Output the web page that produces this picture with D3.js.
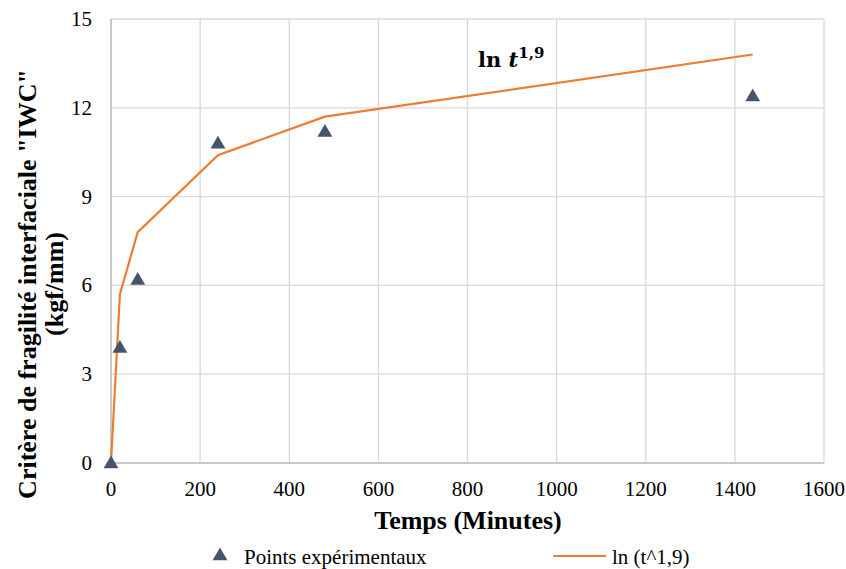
<!DOCTYPE html>
<html><head><meta charset="utf-8">
<script src="https://cdn.jsdelivr.net/npm/d3@7"></script>
<style>body{margin:0;background:#fff}svg{display:block}</style>
</head><body>
<svg id="c" width="846" height="569" font-family="'Liberation Serif', 'Times New Roman', serif"></svg>
<script>
const pointTimes = [0, 20, 60, 240, 480, 1440];
const pointValues = [0, 3.9, 6.2, 10.8, 11.2, 12.4];
const lineTimes = [0, 20, 60, 240, 480, 1440];
const lineValues = [0, 5.7, 7.8, 10.4, 11.7, 13.8];
const xTicks = [0, 200, 400, 600, 800, 1000, 1200, 1400, 1600];
const yTicks = [0, 3, 6, 9, 12, 15];
const seriesNames = ["Points expérimentaux", "ln (t^1,9)"];

const svg = d3.select("#c");
const L = 111, R = 824, T = 19, B = 463;
const x = d3.scaleLinear().domain([0, 1600]).range([L, R]);
const y = d3.scaleLinear().domain([0, 15]).range([B, T]);

// grid
svg.append("g").selectAll("line").data(xTicks).join("line")
  .attr("x1", d => x(d)).attr("x2", d => x(d)).attr("y1", T).attr("y2", B)
  .attr("stroke", "#d9d9d9").attr("stroke-width", 1.3);
svg.append("g").selectAll("line").data(yTicks).join("line")
  .attr("x1", L).attr("x2", R).attr("y1", d => y(d)).attr("y2", d => y(d))
  .attr("stroke", "#d9d9d9").attr("stroke-width", 1.3);
// axes lines
svg.append("line").attr("x1", L).attr("x2", L).attr("y1", T).attr("y2", B).attr("stroke", "#bfbfbf").attr("stroke-width", 1.5);
svg.append("line").attr("x1", L).attr("x2", R).attr("y1", B).attr("y2", B).attr("stroke", "#bfbfbf").attr("stroke-width", 1.5);

// tick labels
svg.append("g").selectAll("text").data(xTicks).join("text")
  .attr("x", d => x(d)).attr("y", B + 33).attr("text-anchor", "middle")
  .attr("font-size", 21).attr("fill", "#000").text(d => d);
svg.append("g").selectAll("text").data(yTicks).join("text")
  .attr("x", 92).attr("y", d => y(d) + 7).attr("text-anchor", "end")
  .attr("font-size", 21).attr("fill", "#000").text(d => d);

// line
const lineData = lineTimes.map((t, i) => [t, lineValues[i]]);
svg.append("path").datum(lineData)
  .attr("d", d3.line().x(d => x(d[0])).y(d => y(d[1])))
  .attr("fill", "none").attr("stroke", "#ed7d31").attr("stroke-width", 2.2);

// points
const tri = d3.symbol().type(d3.symbolTriangle).size(95);
svg.append("g").selectAll("path").data(pointTimes.map((t, i) => [t, pointValues[i]])).join("path")
  .attr("transform", d => `translate(${x(d[0])},${y(d[1]) + 1})`)
  .attr("d", tri).attr("fill", "#44546a");

// annotation
const ann = svg.append("text").attr("x", 478).attr("y", 67).attr("font-size", 21)
  .attr("font-weight", "bold").attr("fill", "#000").attr("font-family", "'DejaVu Serif', serif");
ann.append("tspan").text("ln ");
ann.append("tspan").attr("font-style", "italic").text("t");
ann.append("tspan").attr("font-size", 15).attr("dy", -9).text("1,9");

// axis titles
svg.append("text").attr("x", 468).attr("y", 529).attr("text-anchor", "middle")
  .attr("font-size", 26).attr("font-weight", "bold").text("Temps (Minutes)");
const yt = svg.append("text").attr("transform", `translate(36,284) rotate(-90)`)
  .attr("text-anchor", "middle").attr("font-size", 26).attr("font-weight", "bold");
yt.append("tspan").attr("x", 0).attr("dy", 0).text("Critère de fragilité interfaciale \"IWC\"");
yt.append("tspan").attr("x", 0).attr("dy", 27).text("(kgf/mm)");

// legend
svg.append("path").attr("transform", "translate(220,556)").attr("d", tri).attr("fill", "#44546a");
svg.append("text").attr("x", 244).attr("y", 564).attr("font-size", 21).text(seriesNames[0]);
svg.append("line").attr("x1", 553).attr("x2", 606).attr("y1", 556).attr("y2", 556).attr("stroke", "#ed7d31").attr("stroke-width", 2.2);
svg.append("text").attr("x", 612).attr("y", 564).attr("font-size", 21).text(seriesNames[1]);
</script>
</body></html>
